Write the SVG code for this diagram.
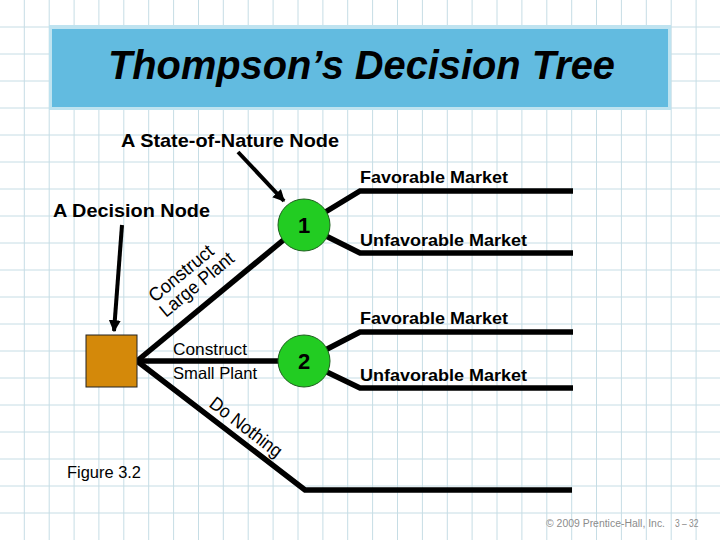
<svg xmlns="http://www.w3.org/2000/svg" width="720" height="540" viewBox="0 0 720 540">
<defs>
<style>
.grid{stroke:#c6dde5;stroke-width:1;fill:none}
.br{stroke:#000;stroke-width:5.5;fill:none;stroke-linejoin:miter}
.ar{stroke:#000;stroke-width:4;fill:none}
.t{font-family:"Liberation Sans",Arial,sans-serif;fill:#000}
.b{font-weight:bold}
.chance{fill:#22cc22;stroke:#1f5f1f;stroke-width:1}
.foot{font-family:"Liberation Sans",Arial,sans-serif;font-size:10px;fill:#8c8c8c}
</style>
<marker id="ah" viewBox="0 0 10 10" refX="9" refY="5" markerWidth="3" markerHeight="3" orient="auto" markerUnits="strokeWidth">
<path d="M0,0 L10,5 L0,10 z" fill="#000"/>
</marker>
</defs>
<rect width="720" height="540" fill="#fff"/>
<path class="grid" d="M0,27H720M0,54H720M0,81H720M0,108H720M0,135H720M0,162H720M0,189H720M0,216H720M0,243H720M0,270H720M0,297H720M0,324H720M0,351H720M0,378H720M0,405H720M0,432H720M0,459H720M0,486H720M0,513H720M24.3,0V540M49.2,0V540M74.1,0V540M98.9,0V540M123.8,0V540M148.7,0V540M173.6,0V540M198.5,0V540M223.3,0V540M248.2,0V540M273.1,0V540M298,0V540M322.9,0V540M347.7,0V540M372.6,0V540M397.5,0V540M422.4,0V540M447.3,0V540M472.1,0V540M497,0V540M521.9,0V540M546.8,0V540M571.7,0V540M596.5,0V540M621.4,0V540M646.3,0V540M671.2,0V540M696.1,0V540"/>
<g id="title">
<rect x="49" y="25" width="622" height="85" fill="#bfe3f0"/>
<rect x="52" y="29" width="616" height="78" fill="#62bbe0"/>
<text class="t b" x="108" y="79" font-size="41" font-style="italic" textLength="507" lengthAdjust="spacingAndGlyphs">Thompson’s Decision Tree</text>
</g>
<g id="connectors">
<line class="br" x1="137" y1="361" x2="304" y2="223"/>
<line class="br" x1="137" y1="361" x2="290" y2="361"/>
<polyline class="br" points="137,361 305,490 572,490"/>
<polyline class="br" points="304,225 360,191 573,191"/>
<polyline class="br" points="304,225 360,253 573,253"/>
<polyline class="br" points="304,361 360,332 573,332"/>
<polyline class="br" points="304,361 360,388 573,388"/>
<line class="ar" x1="238" y1="152" x2="284" y2="201" marker-end="url(#ah)"/>
<line class="ar" x1="122" y1="225" x2="114" y2="331" marker-end="url(#ah)"/>
</g>
<g id="decision-node">
<rect x="86" y="335" width="51" height="52" fill="#d4890a" stroke="#222" stroke-width="1"/>
</g>
<g id="node-1">
<circle class="chance" cx="304" cy="225" r="26"/>
<text class="t" x="304" y="233" font-size="22" text-anchor="middle" font-weight="600">1</text>
</g>
<g id="node-2">
<circle class="chance" cx="304" cy="361" r="26"/>
<text class="t b" x="304" y="369" font-size="22" text-anchor="middle">2</text>
</g>
<g id="labels">
<text class="t b" x="121" y="147.3" font-size="18.5" textLength="218" lengthAdjust="spacingAndGlyphs">A State-of-Nature Node</text>
<text class="t b" x="53" y="216.7" font-size="18" textLength="157" lengthAdjust="spacingAndGlyphs">A Decision Node</text>
<text class="t b" x="360" y="182.7" font-size="17" textLength="148" lengthAdjust="spacingAndGlyphs">Favorable Market</text>
<text class="t b" x="360" y="245.7" font-size="17" textLength="167" lengthAdjust="spacingAndGlyphs">Unfavorable Market</text>
<text class="t b" x="360" y="324" font-size="17" textLength="148" lengthAdjust="spacingAndGlyphs">Favorable Market</text>
<text class="t b" x="360" y="380.7" font-size="17" textLength="167" lengthAdjust="spacingAndGlyphs">Unfavorable Market</text>
<text class="t" x="173" y="355" font-size="16.5" textLength="74" lengthAdjust="spacingAndGlyphs">Construct</text>
<text class="t" x="173" y="379.3" font-size="16.5" textLength="84" lengthAdjust="spacingAndGlyphs">Small Plant</text>
<text class="t" font-size="19" transform="translate(155,303) rotate(-39.5)" textLength="78" lengthAdjust="spacingAndGlyphs">Construct</text>
<text class="t" font-size="19" transform="translate(166,318) rotate(-39.5)" textLength="90" lengthAdjust="spacingAndGlyphs">Large Plant</text>
<text class="t" font-size="19" transform="translate(208,406) rotate(37.5)" textLength="86" lengthAdjust="spacingAndGlyphs">Do Nothing</text>
<text class="t" x="67" y="478.3" font-size="16.5" textLength="74" lengthAdjust="spacingAndGlyphs">Figure 3.2</text>
<text class="foot" x="546" y="526.7" textLength="119" lengthAdjust="spacingAndGlyphs">© 2009 Prentice-Hall, Inc.</text>
<text class="foot" x="675" y="526.7" textLength="23.5" lengthAdjust="spacingAndGlyphs">3 – 32</text>
</g>
</svg>
